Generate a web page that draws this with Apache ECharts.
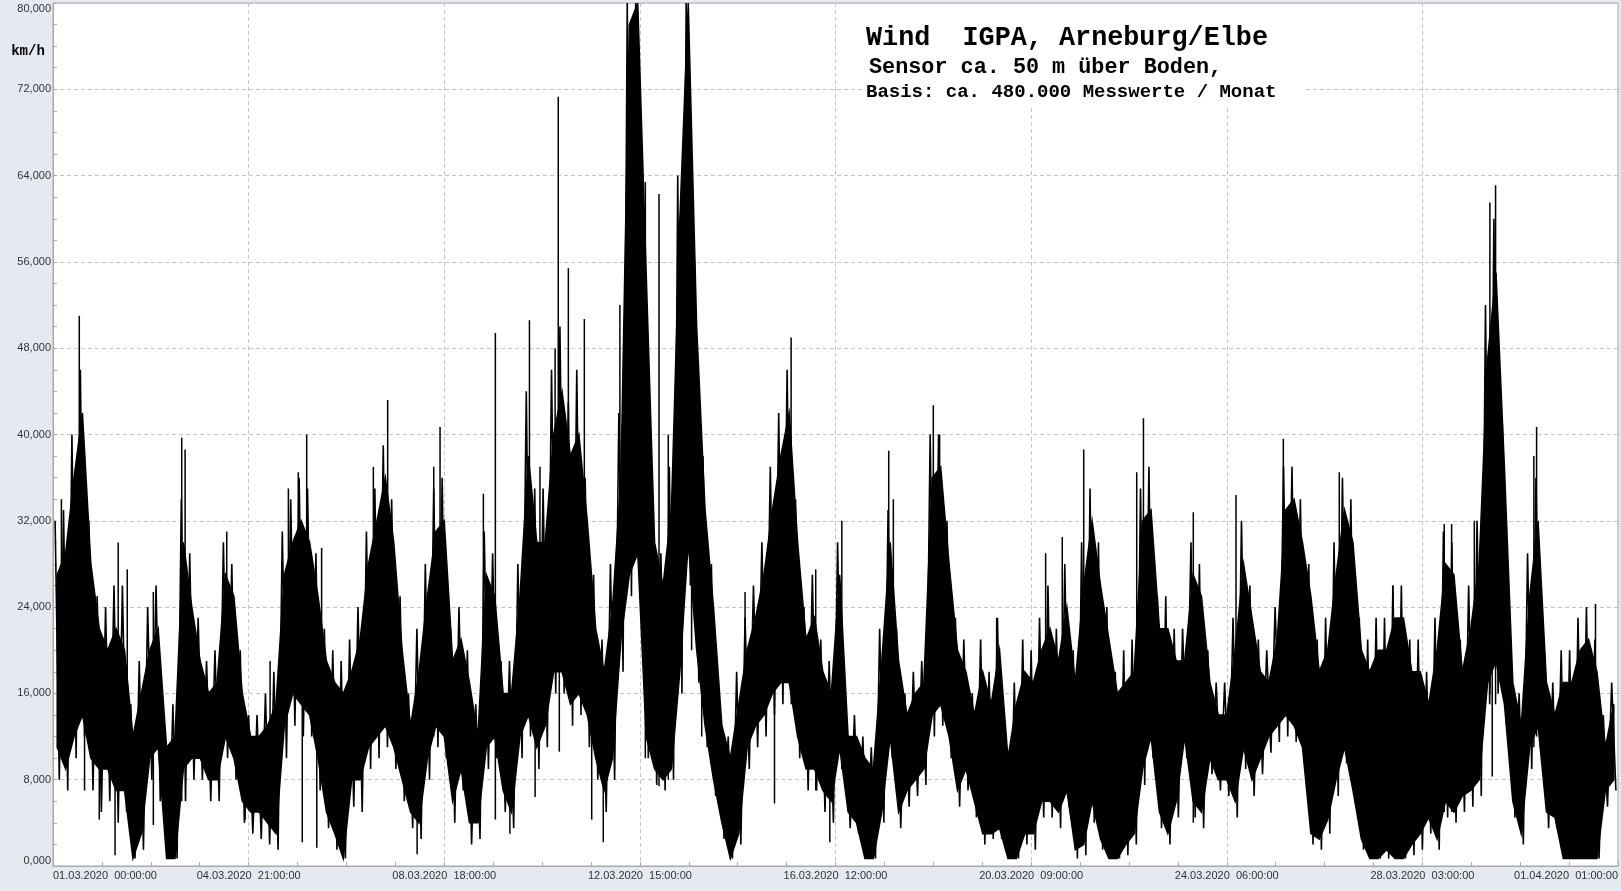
<!DOCTYPE html>
<html><head><meta charset="utf-8">
<script src="https://cdn.jsdelivr.net/npm/echarts@6/dist/echarts.min.js"></script>
<style>html,body{margin:0;padding:0;background:#e5e9f0;} #c{width:1621px;height:891px;}</style>
</head><body><div id="c"></div>
<script>
// x axis: hours since 01.03.2020 00:00, tick every 93 h
const xTickLabels = ["01.03.2020  00:00:00","04.03.2020  21:00:00","08.03.2020  18:00:00","12.03.2020  15:00:00","16.03.2020  12:00:00","20.03.2020  09:00:00","24.03.2020  06:00:00","28.03.2020  03:00:00","01.04.2020  01:00:00"];
const binHours = 4;
// upper edge of the dense band per 4-hour bin (km/h)
const hi = [27,29,36,42,28,22,20,22,20,12,16,20,22,11,12,30,24,19,16,17,27,25,16,12,
12,13,15,27,30,32,30,25,19,17,16,18,21,28,32,36,30,20,13,18,25,31,32,
19,21,17,12,27,25,16,16,25,38,30,30,40,44,38,40,32,22,18,24,36,78,80,
55,30,26,33,60,80,50,33,24,13,10,15,20,23,27,33,38,42,30,21,23,18,16,
27,12,12,10,9,19,30,19,14,16,17,36,37,28,20,18,14,18,15,20,10,15,18,
17,20,22,19,24,17,26,32,26,21,16,17,18,32,33,22,22,19,19,27,25,17,14,
14,20,28,23,18,17,21,33,34,30,25,18,20,27,33,30,20,18,20,20,23,23,18,
18,15,20,28,27,18,22,28,47,55,37,17,13,25,32,17,14,17,17,20,21,18,11,15];
// lower edge of the dense band per 4-hour bin (km/h)
const lo = [11,9,12,14,10,9,9,7,7,0.7,3,10,11,0.7,0.7,9,10,10,8,8,12,10,6,5,
5,4,3,13,16,15,14,10,5,3,0.7,8,8,11,12,13,11,8,5,4,10,13,12,
6,9,4,4,11,12,7,5,12,14,11,13,18,18,15,16,14,10,7,10,21,27,29,
12,9,8,9,18,30,20,13,8,4,0.7,3,11,13,14,16,17,17,12,9,9,7,6,
11,5,4,0.7,0.7,5,12,5,7,8,9,14,15,12,7,9,6,3,3,3.5,0.7,0.7,3,
3,6,6,5,7,1.5,2,6,2.5,0.7,0.7,2,3,9,12,5,3,6,12,6,5,10,8,
8,6,11,8,10,12,13,14,13,11,3,2.5,4.3,8,11,7,2.5,0.7,0.7,1.5,0.7,0.7,2,
3,4.5,2.5,6,5,6.5,7,8,17,19,15,6,3,11,13,5,4.5,0.7,0.7,0.7,0.7,0.7,7,8];
// highest reading per 4-hour bin (km/h)
const peak = [32,33,40,46,32,25,24,26,26,15,
19,24,26,13,15,34,29,23,19,20,
30,28,20,14,14,16,18,31,34,36,
35,29,22,20,19,21,24,31,35,39,
34,25,16,22,28,35,36,22,24,20,
15,31,29,19,19,28,44,35,35,46,
50,43,46,36,27,21,28,42,80,80,
60,34,29,37,64,80,56,38,28,15,
12,18,23,26,30,37,42,46,34,24,
27,21,19,30,14,14,12,11,22,33,
22,16,18,19,40,40,32,23,21,16,
21,18,23,12,17,21,20,23,26,22,
28,20,30,35,30,24,18,20,21,35,
37,25,25,22,22,30,28,20,17,17,
23,32,26,21,20,24,37,37,34,28,
21,23,30,36,34,23,21,23,23,26,
26,21,21,18,23,31,30,21,26,32,
52,60,41,20,16,29,36,20,17,20,
20,23,24,21,14,17];
// lowest reading per 4-hour bin (km/h)
const dip = [8,7,10,12,7,5,6,4,5,0.7,
1.5,8,6,0.7,0.7,6,8,8,6,6,
10,8,4,3,2.5,2,1.5,10,13,12,
12,7,3.5,1.5,0.7,5.5,5,9,10,11,
9,6,3.5,2.5,8,11,10,4,7,2,
2.5,9,10,5,3.5,10,12,9,11,16,
16,13,14,11,8,5,8,18,25,27,
10,7.5,7,8,16,26,17,11,6.5,2.5,
0.7,2,9,11,12,14,15,15,10,7,
7,5,4,9,3.5,3,0.7,0.7,4,10,
3.5,5.5,6.5,7.5,12,13,10,5.5,7,4.5,
2,2.5,2.5,0.7,0.7,2,1.5,4.5,4.5,3.5,
5.5,0.7,1,4,1.5,0.7,0.7,1,2,7.5,
10,3.5,2,4.5,10,4.5,3.5,8.5,7,6.5,
4.5,9,6.5,8.5,10.5,11.5,12,11.5,9.5,2,
1.5,3,6.5,9.5,6,1.5,0.7,0.7,0.7,0.7,
0.7,1,1.5,3,1.5,4.5,4,5,5.5,6.5,
15,16,13,4.5,2,9,11,3.5,3.5,0.7,
0.7,0.7,0.7,0.7,5.5,7];
// isolated gusts / dips: [hour, low, high]
const spikes = [[4,10,34],[12.5,20,51],[15,7,38],[22,4.3,18],[29.5,1,20],[31,8,30],[35.3,8,27.5],[47.7,3.8,25.4],[61.2,6,39.7],[62.8,10,38.6],[82.6,12,31],[91.3,4.3,14],
[103.2,8,19],[111.9,15,35],[116.6,17,36.5],[118.5,2.2,20],[120.6,20,40],[125.4,1.7,15],[127.7,12,29.5],[152.3,14,37],[159.1,14,43.2],[173.1,1.1,12],[181,12,37],[184,15,40.7],
[204.6,10,34.5],[210.3,4.3,49.4],[217.2,3,16],[226.5,15,50.6],[229.2,6.4,25],[231.5,12,37],[238.7,18,48],[240.2,20,71.3],[240.7,10.6,30],[245,18,55.4],[252.6,15,50.7],[256.1,4.3,20],[261.6,2.2,15],[269.5,20,52],
[281.6,10,63.4],[288.1,7.4,62.3],[292.5,8,40],[303.6,20,62],[308.4,12,39],[329,10,25.4],[343,5.8,30],[350.9,16,49],[362.6,7,27.5],[369.3,2.2,15],
[375,11,32],[397.3,12,38.5],[399.5,10,34],[418.5,15,42.7],[421.5,15,40],[448.6,5,23],
[471.9,8,29],[479.8,7,30.5],[490,6,38.6],[515.2,9,36.5],[518.4,12,41.5],[542.1,4,32.8],
[562.4,10,34.4],[584.9,14,39.6],[611.5,11,36.5],[636.9,1,26],
[661.4,5,31.7],[664.9,5,31.7],[675.7,8,32],[683.1,16,61.5],[685.8,15,63.1],[684.2,8.3,40],[704,11,38],[705.3,12,40.7],[733.3,0.7,24.3]];

const times = hi.map((_, i) => i * binHours + binHours / 2);
// trace through each bin: highest reading early in the bin, lowest later
const trace = [];
peak.forEach((p, i) => { trace.push([i * binHours + 1, p]); trace.push([i * binHours + 3, dip[i]]); });

const chart = echarts.init(document.getElementById('c'), null, {renderer:'canvas'});
const gridGray = '#a8a8a8';
const txt = (text, x, y, size) => ({type:'text',z:6,style:{text, x, y, font:'bold ' + size + 'px "Liberation Mono"', fill:'#000', textAlign:'left', textVerticalAlign:'middle', verticalAlign:'middle'}});
chart.setOption({
  animation:false,
  backgroundColor:'#e5e9f0',
  grid:{left:53,right:3,top:3,bottom:25,show:true,backgroundColor:'#ffffff',borderColor:gridGray,borderWidth:1},
  xAxis:{type:'value',min:0,max:744,interval:93,
    axisLine:{show:true,onZero:false,lineStyle:{color:gridGray}},
    axisTick:{show:true,inside:true,length:4,lineStyle:{color:gridGray}},
    minorTick:{show:true,splitNumber:4,length:4,lineStyle:{color:gridGray}},
    splitLine:{show:true,lineStyle:{color:'#c4c4c4',type:[4,3]}},
    axisLabel:{formatter:(v)=>xTickLabels[Math.round(v/93)],color:'#333',fontSize:11,fontFamily:'Liberation Sans',margin:4,alignMinLabel:'left',alignMaxLabel:'right'}},
  yAxis:{type:'value',min:0,max:80,interval:8,
    axisLine:{show:true,lineStyle:{color:gridGray}},
    axisTick:{show:true,inside:true,length:4,lineStyle:{color:gridGray}},
    minorTick:{show:true,splitNumber:4,length:4,lineStyle:{color:gridGray}},
    splitLine:{show:true,lineStyle:{color:'#c4c4c4',type:[4,3]}},
    axisLabel:{formatter:(v)=>v.toFixed(3).replace('.',','),color:'#333',fontSize:11,fontFamily:'Liberation Sans',margin:2,verticalAlignMinLabel:'bottom',verticalAlignMaxLabel:'top'}},
  graphic:[
    {type:'rect',shape:{x:862,y:4,width:441,height:103},style:{fill:'#ffffff'},z:5,silent:true},
    {type:'text',z:6,style:{text:'km/h',x:28,y:51,font:'bold 14px "Liberation Mono"',fill:'#000',textAlign:'center',textVerticalAlign:'middle',verticalAlign:'middle'}},
    txt('Wind  IGPA, Arneburg/Elbe', 866, 38, 26.8),
    txt('Sensor ca. 50 m über Boden,', 869, 68, 21.8),
    txt('Basis: ca. 480.000 Messwerte / Monat', 866, 92.5, 19)
  ],
  series:[
    {type:'custom',coordinateSystem:'cartesian2d',silent:true,clip:true,
     data:times.map((t,i)=>[t,lo[i],hi[i]]),encode:{x:0,y:[1,2]},
     renderItem:(params,api)=>{
       if (params.dataIndex !== 0) return null;
       const pts = [];
       for (let i=0;i<times.length;i++) pts.push(api.coord([times[i],hi[i]]));
       for (let i=times.length-1;i>=0;i--) pts.push(api.coord([times[i],lo[i]]));
       return {type:'polygon',shape:{points:pts},style:{fill:'#000',stroke:'#000',lineWidth:1.5}};
     }},
    {type:'line',data:trace,symbol:'none',silent:true,clip:true,lineStyle:{color:'#000',width:1.6},z:3},
    {type:'custom',coordinateSystem:'cartesian2d',silent:true,clip:true,
     data:spikes,encode:{x:0,y:[1,2]},
     renderItem:(params,api)=>{
       const a = api.coord([api.value(0),api.value(1)]);
       const b = api.coord([api.value(0),api.value(2)]);
       return {type:'line',shape:{x1:a[0],y1:a[1],x2:b[0],y2:b[1]},style:{stroke:'#000',lineWidth:1.5}};
     }}
  ]
});
</script></body></html>
